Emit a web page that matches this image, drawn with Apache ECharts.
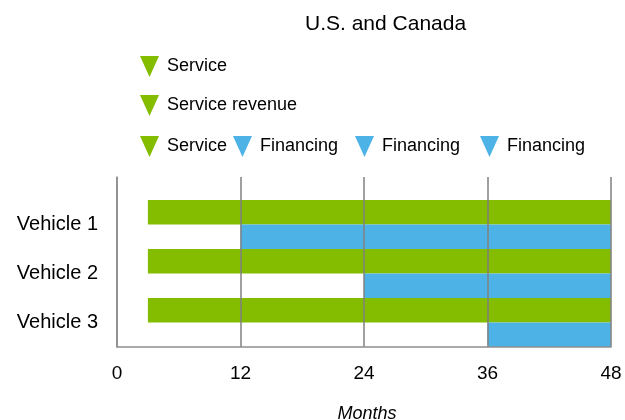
<!DOCTYPE html>
<html>
<head>
<meta charset="utf-8">
<script src="https://cdn.jsdelivr.net/npm/echarts@6/dist/echarts.min.js"></script>
<style>
  html, body { margin: 0; padding: 0; background: #fff; }
</style>
</head>
<body>
<div id="main" style="width: 625px;height:420px;"></div>
<script type="text/javascript">
    // data
    var vehicles = ['Vehicle 1', 'Vehicle 2', 'Vehicle 3'];
    var serviceStart = [3, 3, 3];
    var serviceEnd = [48, 48, 48];
    var financingStart = [12, 24, 36];
    var financingEnd = [48, 48, 48];

    var green = '#84bd00';
    var blue = '#4db3e6';
    var font = 'Liberation Sans, Arial, sans-serif';
    var tri = 'path://M0,0L20,0L10,22Z';

    function span(a, b) {
        return a.map(function (v, i) { return b[i] - v; });
    }

    var myChart = echarts.init(document.getElementById('main'));

    function legendAt(name, left, top) {
        return {
            data: [name],
            left: left,
            top: top,
            padding: 0,
            icon: tri,
            itemWidth: 19,
            itemHeight: 22,
            selectedMode: false,
            textStyle: { fontFamily: font, fontSize: 18, color: '#000', padding: [0, 0, 0, 3] }
        };
    }

    var option = {
        animation: false,
        textStyle: { fontFamily: font },
        title: {
            text: 'U.S. and Canada',
            left: 300,
            top: 9,
            textStyle: { fontFamily: font, fontSize: 21, fontWeight: 'normal', color: '#000' }
        },
        legend: [
            legendAt('Service', 140, 56),
            legendAt('Service revenue', 140, 95),
            legendAt('Service', 140, 136),
            legendAt('Financing', 233, 136),
            legendAt('Financing', 355, 136),
            legendAt('Financing', 480, 136)
        ],
        grid: [
            // frame + grid lines
            { left: 117, right: 14, top: 177, bottom: 73, outerBoundsMode: 'none' },
            // bars
            { left: 117, right: 14, top: 200, bottom: 73, outerBoundsMode: 'none' }
        ],
        xAxis: [
            {
                gridIndex: 0,
                type: 'value',
                min: 0,
                max: 48,
                interval: 12,
                z: 5,
                name: 'Months',
                nameLocation: 'middle',
                nameGap: 58,
                nameTextStyle: { fontFamily: font, fontSize: 18, fontStyle: 'italic', color: '#000', padding: [0, 0, 0, 6] },
                axisLine: { show: true, onZero: false, lineStyle: { color: '#8f8f8f', width: 1.5 } },
                axisTick: { show: false },
                axisLabel: { fontFamily: font, fontSize: 19, color: '#000', margin: 17 },
                splitLine: { show: true, lineStyle: { color: '#808080', width: 1.5 } }
            },
            {
                gridIndex: 1,
                type: 'value',
                min: 0,
                max: 48,
                show: false
            }
        ],
        yAxis: [
            {
                gridIndex: 0,
                type: 'value',
                min: 0,
                max: 1,
                z: 5,
                axisLine: { show: true, onZero: false, lineStyle: { color: '#8f8f8f', width: 1.5 } },
                axisTick: { show: false },
                axisLabel: { show: false },
                splitLine: { show: false }
            },
            {
                gridIndex: 1,
                type: 'category',
                inverse: true,
                data: vehicles,
                axisLine: { show: false },
                axisTick: { show: false },
                axisLabel: { fontFamily: font, fontSize: 20, color: '#000', margin: 19 }
            }
        ],
        series: [
            {
                name: 'pad-s', type: 'bar', stack: 's', xAxisIndex: 1, yAxisIndex: 1, silent: true,
                itemStyle: { color: 'transparent' },
                barGap: '0%', barCategoryGap: '0%',
                data: serviceStart
            },
            {
                name: 'Service', type: 'bar', stack: 's', xAxisIndex: 1, yAxisIndex: 1,
                itemStyle: { color: green },
                barGap: '0%', barCategoryGap: '0%',
                data: span(serviceStart, serviceEnd)
            },
            {
                name: 'Service revenue', type: 'bar', stack: 's', xAxisIndex: 1, yAxisIndex: 1,
                itemStyle: { color: green },
                barGap: '0%', barCategoryGap: '0%',
                data: []
            },
            {
                name: 'pad-f', type: 'bar', stack: 'f', xAxisIndex: 1, yAxisIndex: 1, silent: true,
                itemStyle: { color: 'transparent' },
                barGap: '0%', barCategoryGap: '0%',
                data: financingStart
            },
            {
                name: 'Financing', type: 'bar', stack: 'f', xAxisIndex: 1, yAxisIndex: 1,
                itemStyle: { color: blue },
                barGap: '0%', barCategoryGap: '0%',
                data: span(financingStart, financingEnd)
            }
        ]
    };
    myChart.setOption(option);
</script>
</body>
</html>
